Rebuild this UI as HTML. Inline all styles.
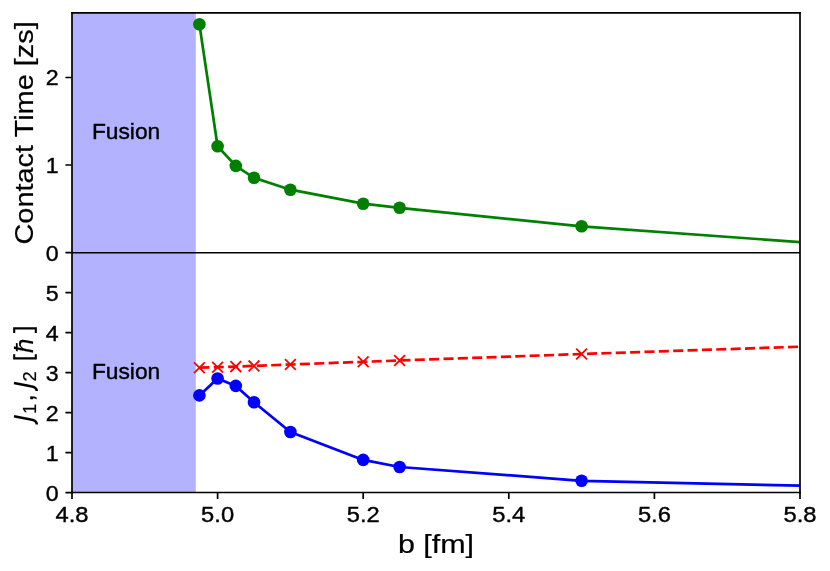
<!DOCTYPE html>
<html>
<head>
<meta charset="utf-8">
<title>Contact time and angular momentum vs b</title>
<style>
html,body{margin:0;padding:0;background:#ffffff;}
body{width:830px;height:571px;overflow:hidden;font-family:"Liberation Sans",sans-serif;}
svg{display:block;will-change:transform;}
text{font-family:"Liberation Sans",sans-serif;fill:#000;stroke:#000;stroke-width:0.4px;stroke-linejoin:round;}
.tk{font-size:22.5px;}
.lb{font-size:26.2px;} .lb, .lb text{stroke-width:0.2px;}
.it{font-style:italic;}
.sub{font-size:18.4px;}
</style>
</head>
<body>
<svg width="830" height="571" viewBox="0 0 830 571">
  <rect x="0" y="0" width="830" height="571" fill="#ffffff"/>

  <defs>
    <clipPath id="cTop"><rect x="72" y="13" width="728" height="239.7"/></clipPath>
    <clipPath id="cBot"><rect x="72" y="252.7" width="728" height="239.8"/></clipPath>
  </defs>

  <!-- fusion shaded spans -->
  <rect x="72" y="13" width="123.8" height="479.5" fill="#b2b2ff"/>

  <!-- top axes data -->
  <g clip-path="url(#cTop)">
    <polyline fill="none" stroke="#008000" stroke-width="2.72" stroke-linejoin="round" stroke-linecap="butt"
      points="199.4,24.3 217.6,146.3 235.8,165.9 254,177.8 290.4,189.7 363.2,203.7 399.6,207.8 581.6,226.3 800,242.1 836.4,244.7"/>
    <g fill="#008000">
      <circle cx="199.4" cy="24.3" r="6.3"/>
      <circle cx="217.6" cy="146.3" r="6.3"/>
      <circle cx="235.8" cy="165.9" r="6.3"/>
      <circle cx="254" cy="177.8" r="6.3"/>
      <circle cx="290.4" cy="189.7" r="6.3"/>
      <circle cx="363.2" cy="203.7" r="6.3"/>
      <circle cx="399.6" cy="207.8" r="6.3"/>
      <circle cx="581.6" cy="226.3" r="6.3"/>
    </g>
  </g>

  <!-- bottom axes data -->
  <g clip-path="url(#cBot)">
    <polyline fill="none" stroke="#0000ff" stroke-width="2.72" stroke-linejoin="round" stroke-linecap="butt"
      points="199.4,395.4 217.6,378.5 235.8,385.9 254,402.2 290.4,432 363.2,459.9 399.6,467 581.6,480.8 800,485.6 836.4,486.4"/>
    <g fill="#0000ff">
      <circle cx="199.4" cy="395.4" r="6.3"/>
      <circle cx="217.6" cy="378.5" r="6.3"/>
      <circle cx="235.8" cy="385.9" r="6.3"/>
      <circle cx="254" cy="402.2" r="6.3"/>
      <circle cx="290.4" cy="432" r="6.3"/>
      <circle cx="363.2" cy="459.9" r="6.3"/>
      <circle cx="399.6" cy="467" r="6.3"/>
      <circle cx="581.6" cy="480.8" r="6.3"/>
    </g>
    <polyline fill="none" stroke="#ff0000" stroke-width="2.72" stroke-dasharray="10.03 4.336" stroke-linejoin="round" stroke-linecap="butt"
      points="199.4,367.7 217.6,367.2 235.8,366.6 254,365.9 290.4,364.5 363.2,361.8 399.6,360.5 581.6,354 800,346.7 836.4,345.5"/>
    <g stroke="#ff0000" stroke-width="1.8" stroke-linecap="butt" fill="none">
      <path d="M194,362.3l10.8,10.8m0,-10.8l-10.8,10.8"/>
      <path d="M212.2,361.8l10.8,10.8m0,-10.8l-10.8,10.8"/>
      <path d="M230.4,361.2l10.8,10.8m0,-10.8l-10.8,10.8"/>
      <path d="M248.6,360.5l10.8,10.8m0,-10.8l-10.8,10.8"/>
      <path d="M285,359.1l10.8,10.8m0,-10.8l-10.8,10.8"/>
      <path d="M357.8,356.4l10.8,10.8m0,-10.8l-10.8,10.8"/>
      <path d="M394.2,355.1l10.8,10.8m0,-10.8l-10.8,10.8"/>
      <path d="M576.2,348.6l10.8,10.8m0,-10.8l-10.8,10.8"/>
    </g>
  </g>

  <!-- spines -->
  <g stroke="#000" fill="none" stroke-linecap="butt">
    <line x1="72" y1="12.1" x2="72" y2="493.35" stroke-width="1.7"/>
    <line x1="800" y1="12.1" x2="800" y2="493.35" stroke-width="1.7"/>
    <line x1="71.15" y1="12.95" x2="800.85" y2="12.95" stroke-width="1.7"/>
    <line x1="72" y1="252.65" x2="800" y2="252.65" stroke-width="1.55"/>
    <line x1="71.1" y1="492.6" x2="800.9" y2="492.6" stroke-width="1.5"/>
  </g>

  <!-- ticks -->
  <g stroke="#000" fill="none" stroke-linecap="butt">
    <path stroke-width="1.7" d="M72,493v5.9M217.6,493v5.9M363.2,493v5.9M508.8,493v5.9M654.4,493v5.9M800,493v5.9"/>
    <path stroke-width="1.6" d="M71.5,252.65h-6.1M71.5,165h-6.1M71.5,77.45h-6.1"/>
    <path stroke-width="1.6" d="M71.5,492.6h-6.1M71.5,452.6h-6.1M71.5,412.6h-6.1M71.5,372.6h-6.1M71.5,332.65h-6.1M71.5,292.65h-6.1"/>
  </g>

  <!-- x tick labels -->
  <g class="tk">
    <text x="55.5" y="521.6" textLength="33" lengthAdjust="spacingAndGlyphs">4.8</text>
    <text x="201.1" y="521.6" textLength="33" lengthAdjust="spacingAndGlyphs">5.0</text>
    <text x="346.7" y="521.6" textLength="33" lengthAdjust="spacingAndGlyphs">5.2</text>
    <text x="492.3" y="521.6" textLength="33" lengthAdjust="spacingAndGlyphs">5.4</text>
    <text x="637.9" y="521.6" textLength="33" lengthAdjust="spacingAndGlyphs">5.6</text>
    <text x="783.5" y="521.6" textLength="33" lengthAdjust="spacingAndGlyphs">5.8</text>
  </g>

  <!-- y tick labels -->
  <g class="tk">
    <text x="45.75" y="260.7" textLength="12.9" lengthAdjust="spacingAndGlyphs">0</text>
    <text x="45.75" y="173" textLength="12.9" lengthAdjust="spacingAndGlyphs">1</text>
    <text x="45.75" y="85.2" textLength="12.9" lengthAdjust="spacingAndGlyphs">2</text>
    <text x="45.75" y="500.5" textLength="12.9" lengthAdjust="spacingAndGlyphs">0</text>
    <text x="45.75" y="460.5" textLength="12.9" lengthAdjust="spacingAndGlyphs">1</text>
    <text x="45.75" y="420.6" textLength="12.9" lengthAdjust="spacingAndGlyphs">2</text>
    <text x="45.75" y="380.6" textLength="12.9" lengthAdjust="spacingAndGlyphs">3</text>
    <text x="45.75" y="340.6" textLength="12.9" lengthAdjust="spacingAndGlyphs">4</text>
    <text x="45.75" y="300.7" textLength="12.9" lengthAdjust="spacingAndGlyphs">5</text>
  </g>

  <!-- Fusion annotations -->
  <g class="tk">
    <text x="91.9" y="138.8" textLength="68.4" lengthAdjust="spacingAndGlyphs">Fusion</text>
    <text x="91.9" y="378.8" textLength="68.4" lengthAdjust="spacingAndGlyphs">Fusion</text>
  </g>

  <!-- x label -->
  <text class="lb" x="397.9" y="553.1" textLength="76.2" lengthAdjust="spacingAndGlyphs">b [fm]</text>

  <!-- top y label -->
  <g transform="translate(33.4,244.5) rotate(-90)">
    <text class="lb" x="0" y="0" textLength="223.2" lengthAdjust="spacingAndGlyphs">Contact Time [zs]</text>
  </g>

  <!-- bottom y label -->
  <g transform="translate(33.4,425) rotate(-90)" class="lb">
    <path d="M8.7,-19.4L5.5,-2.6Q4.5,3.4 0.6,3.4" fill="none" stroke="#000" stroke-width="2.6" stroke-linecap="butt"/>
    <text class="sub" x="11" y="3">1</text>
    <text x="23.6" y="0">,</text>
    <path d="M42,-19.4L38.8,-2.6Q37.8,3.4 33.9,3.4" fill="none" stroke="#000" stroke-width="2.6" stroke-linecap="butt"/>
    <text class="sub" x="43.6" y="3">2</text>
    <path d="M70.7,-19.2H66.6V2.4H70.7" fill="none" stroke="#000" stroke-width="2.1"/>
    <text class="it" x="72" y="0">ħ</text>
    <path d="M91.9,-19.2H96.6V2.4H91.9" fill="none" stroke="#000" stroke-width="2.1"/>
  </g>
</svg>
</body>
</html>
